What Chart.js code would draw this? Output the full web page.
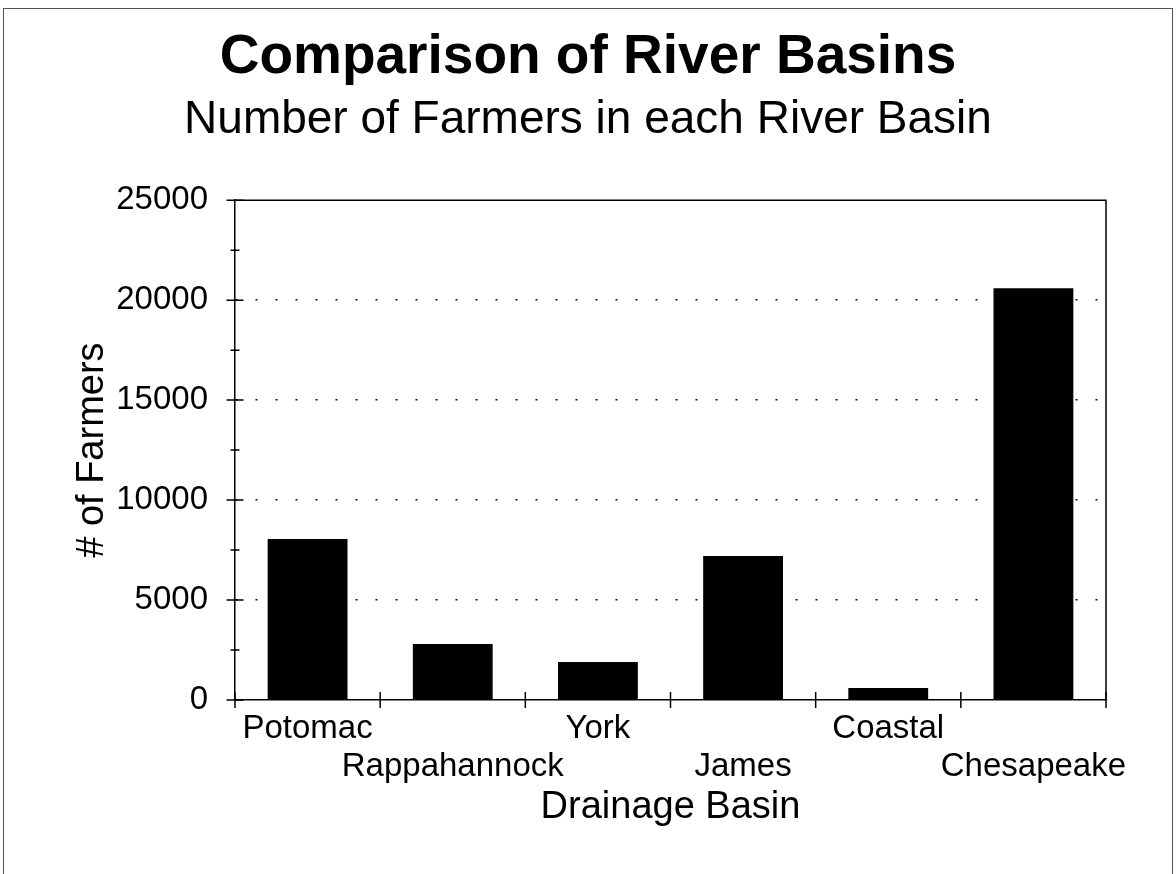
<!DOCTYPE html>
<html>
<head>
<meta charset="utf-8">
<title>Comparison of River Basins</title>
<script src="https://cdn.jsdelivr.net/npm/chart.js@4/dist/chart.umd.min.js"></script>
<style>
  html, body { margin: 0; padding: 0; background: #fff; }
  #wrap { position: relative; width: 1176px; height: 874px; overflow: hidden; background: #fff; }
  #frame {
    position: absolute; left: 3px; top: 8px; width: 1170px; height: 900px;
    border: 1.5px solid #555; box-sizing: border-box; pointer-events: none;
  }
  canvas { position: absolute; left: 0; top: 0; }
</style>
</head>
<body>
<div id="wrap">
  <canvas id="chart" width="1176" height="874"></canvas>
  <div id="frame"></div>
</div>
<script>
// Number of farmers per drainage basin
const categories = ['Potomac', 'Rappahannock', 'York', 'James', 'Coastal', 'Chesapeake'];
const farmers = [8050, 2800, 1900, 7200, 600, 20600];
const yTicks = [0, 5000, 10000, 15000, 20000, 25000];
const yMinorStep = 2500;

const FONT = '"Liberation Sans", Arial, Helvetica, sans-serif';

// Alternate category names between two rows so the long names don't collide
const staggeredLabels = categories.map((c, i) => (i % 2 === 0 ? [c, ''] : ['', c]));

// Frame around the plot area plus the crossing tick marks on both axes
const frameAndTicks = {
  id: 'frameAndTicks',
  afterDraw(chart) {
    const { ctx, chartArea: a, scales } = chart;
    const x = scales.x, y = scales.y;
    ctx.save();
    ctx.strokeStyle = '#000';
    ctx.lineWidth = 1.5;
    // top and right edges of the plot box
    ctx.beginPath();
    ctx.moveTo(a.left, a.top);
    ctx.lineTo(a.right, a.top);
    ctx.lineTo(a.right, a.bottom);
    ctx.stroke();

    // y axis: major ticks at labelled values, minor ticks halfway between
    ctx.beginPath();
    for (let v = y.min; v <= y.max; v += yMinorStep) {
      const py = y.getPixelForValue(v);
      const major = yTicks.includes(v);
      const len = major ? 8.5 : 4.5;
      ctx.moveTo(a.left - len, py);
      ctx.lineTo(a.left + len, py);
    }
    ctx.stroke();

    // x axis: ticks at the boundaries between categories
    ctx.beginPath();
    const n = categories.length;
    for (let i = 0; i <= n; i++) {
      let px;
      if (i === 0) px = a.left;
      else if (i === n) px = a.right;
      else px = (x.getPixelForValue(i - 1) + x.getPixelForValue(i)) / 2;
      ctx.moveTo(px, a.bottom - 8);
      ctx.lineTo(px, a.bottom + 8);
    }
    ctx.stroke();
    ctx.restore();
  }
};

new Chart(document.getElementById('chart'), {
  type: 'bar',
  data: {
    labels: staggeredLabels,
    datasets: [{
      label: '# of Farmers',
      data: farmers,
      backgroundColor: '#000',
      borderWidth: 0,
      barPercentage: 0.55,
      categoryPercentage: 1.0
    }]
  },
  options: {
    responsive: false,
    animation: false,
    layout: { padding: { left: 0, right: 0, top: 0, bottom: 44 } },
    plugins: {
      legend: { display: false },
      tooltip: { enabled: false },
      title: {
        display: true,
        text: 'Comparison of River Basins',
        color: '#000',
        font: { family: FONT, size: 55, weight: 'bold', lineHeight: 1.2 },
        padding: { top: 25, bottom: 0 }
      },
      subtitle: {
        display: true,
        text: 'Number of Farmers in each River Basin',
        color: '#000',
        font: { family: FONT, size: 46, weight: 'normal', lineHeight: 1.2 },
        padding: { top: 2, bottom: 52 }
      }
    },
    scales: {
      x: {
        afterFit(scale) { scale.height = 130; },
        grid: { display: true, drawOnChartArea: false, drawTicks: false, offset: true },
        border: { display: true, color: '#000', width: 1.5 },
        ticks: {
          color: '#000',
          autoSkip: false,
          maxRotation: 0,
          minRotation: 0,
          padding: 10,
          font: { family: FONT, size: 33, lineHeight: 38 / 33 }
        },
        title: {
          display: true,
          text: 'Drainage Basin',
          color: '#000',
          font: { family: FONT, size: 38, lineHeight: 1.2 },
          padding: { top: 0, bottom: 0 }
        }
      },
      y: {
        min: 0,
        max: 25000,
        afterFit(scale) { scale.width = 235; },
        afterBuildTicks(scale) { scale.ticks = yTicks.map(v => ({ value: v })); },
        grid: {
          drawTicks: false,
          color: ctx => (ctx.tick && (ctx.tick.value === 0 || ctx.tick.value === 25000)) ? 'rgba(0,0,0,0)' : '#111',
          lineWidth: 1.6
        },
        border: { display: true, color: '#000', width: 1.5, dash: [2, 18], dashOffset: 0 },
        ticks: {
          color: '#000',
          padding: 27,
          font: { family: FONT, size: 33, lineHeight: 1.2 },
          callback: v => String(v)
        },
        title: {
          display: true,
          text: '# of Farmers',
          color: '#000',
          font: { family: FONT, size: 38, lineHeight: 1.2 },
          padding: { top: 70, bottom: 0 }
        }
      },
      // empty right-hand axis that only reserves the margin to the right of the plot
      yRight: {
        position: 'right',
        display: true,
        afterFit(scale) { scale.width = 70; },
        grid: { display: false, drawTicks: false },
        border: { display: false },
        ticks: { display: false }
      }
    }
  },
  plugins: [frameAndTicks]
});
</script>
</body>
</html>
